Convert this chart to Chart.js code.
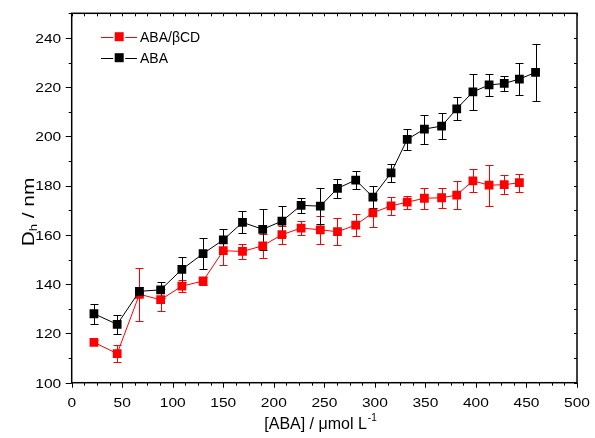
<!DOCTYPE html>
<html>
<head>
<meta charset="utf-8">
<script src="https://cdn.jsdelivr.net/npm/chart.js@4.4.1/dist/chart.umd.min.js"></script>
<style>
  html, body { margin: 0; padding: 0; background: #fff; }
  #wrap { width: 595px; height: 438px; position: relative; }
</style>
</head>
<body>
<div id="wrap"><canvas id="c"></canvas></div>
<script>
// ABA concentration (µmol/L)
const concentration = [22, 45, 67, 88, 109, 130, 150, 169, 189, 208, 227, 246, 263,
  281, 298, 316, 332, 349, 366, 381, 397, 413, 428, 443, 459];

// Hydrodynamic diameter (nm) and standard deviation, ABA/βCD complex
const sizeComplex = [116.4, 111.8, 135.9, 133.7, 139.2, 141.3, 153.6, 153.3, 155.6, 160.1,
  162.8, 162.1, 161.3, 164.0, 169.0, 171.8, 173.3, 174.9, 175.1, 176.2, 182.0, 180.2, 180.4, 181.2];
const errComplex = [0.8, 3.4, 10.8, 4.5, 2.5, 1.7, 6.0, 3.2, 4.9, 3.6,
  3.0, 5.7, 5.4, 4.6, 5.6, 3.8, 2.6, 4.3, 4.0, 5.7, 4.7, 8.3, 3.9, 3.7];

// Hydrodynamic diameter (nm) and standard deviation, free ABA
const sizeFree = [128.0, 123.7, 137.1, 137.7, 146.0, 152.4, 158.0, 165.1, 162.3, 165.6,
  172.0, 171.7, 178.9, 182.3, 175.4, 185.2, 198.8, 203.0, 204.2, 211.2, 218.1, 220.9, 221.5, 223.3, 226.0];
const errFree = [4.0, 3.8, 1.7, 3.2, 5.1, 6.2, 4.5, 4.5, 8.3, 6.0,
  3.0, 7.2, 4.0, 3.7, 4.6, 3.6, 4.3, 5.9, 5.4, 4.7, 7.4, 4.5, 3.1, 6.5, 11.5];

const seriesNames = ['ABA/βCD', 'ABA'];
const xTickLabels = [0, 50, 100, 150, 200, 250, 300, 350, 400, 450, 500];
const yTickLabels = [100, 120, 140, 160, 180, 200, 220, 240];

const FONT = "'Liberation Sans', Arial, Helvetica, sans-serif";

function pts(xs, ys) { return ys.map((v, i) => ({ x: xs[i], y: v })); }

function text(ctx, str, x, y, align, size, sx) {
  ctx.save();
  ctx.font = size + 'px ' + FONT;
  ctx.textBaseline = 'alphabetic';
  const w = ctx.measureText(str).width * sx;
  let x0 = x;
  if (align === 'center') x0 = x - w / 2;
  else if (align === 'right') x0 = x - w;
  ctx.translate(x0, y);
  ctx.scale(sx, 1);
  ctx.textAlign = 'left';
  ctx.fillText(str, 0, 0);
  ctx.restore();
}

// Draws error bars with caps under the markers
const errorBars = {
  id: 'errorBars',
  beforeDatasetsDraw(chart) {
    const { ctx, scales: { x, y } } = chart;
    chart.data.datasets.forEach((ds) => {
      ctx.save();
      ctx.strokeStyle = ds.borderColor;
      ctx.lineWidth = 1;
      ds.data.forEach((p, j) => {
        const e = ds.errors[j];
        const px = Math.round(x.getPixelForValue(p.x)) + 0.5;
        const top = Math.round(y.getPixelForValue(p.y + e)) + 0.5;
        const bot = Math.round(y.getPixelForValue(p.y - e)) + 0.5;
        ctx.beginPath();
        ctx.moveTo(px, top); ctx.lineTo(px, bot);
        ctx.moveTo(px - 4, top); ctx.lineTo(px + 4, top);
        ctx.moveTo(px - 4, bot); ctx.lineTo(px + 4, bot);
        ctx.stroke();
      });
      ctx.restore();
    });
  }
};

// Box frame, ticks, tick labels, axis titles and the inset legend
const frame = {
  id: 'frame',
  afterDraw(chart) {
    const { ctx, chartArea: a, scales: { x, y } } = chart;
    ctx.save();
    ctx.strokeStyle = '#000';
    ctx.fillStyle = '#000';

    // ticks
    ctx.lineWidth = 1;
    ctx.beginPath();
    for (let v = 0; v <= 500; v += 12.5) {
      const px = Math.round(x.getPixelForValue(v)) + 0.5;
      const major = v % 50 === 0;
      ctx.moveTo(px, a.bottom); ctx.lineTo(px, a.bottom + (major ? 5 : 3));
      ctx.moveTo(px, a.top); ctx.lineTo(px, a.top + 3);
    }
    for (let v = 100; v <= 250; v += 10) {
      const py = Math.round(y.getPixelForValue(v)) + 0.5;
      const major = (v - 100) % 20 === 0 && v <= 240;
      ctx.moveTo(a.left, py); ctx.lineTo(a.left - (major ? 6 : 3), py);
      ctx.moveTo(a.right, py); ctx.lineTo(a.right - 3, py);
    }
    ctx.stroke();

    // box
    ctx.lineWidth = 1.5;
    ctx.strokeRect(a.left, a.top, a.right - a.left, a.bottom - a.top);

    // tick labels
    xTickLabels.forEach(v => text(ctx, String(v), x.getPixelForValue(v), a.bottom + 24.5, 'center', 13.5, 1.15));
    yTickLabels.forEach(v => text(ctx, String(v), a.left - 10.5, y.getPixelForValue(v) + 4.8, 'right', 13.5, 1.15));

    // x title with superscript
    ctx.font = '16px ' + FONT;
    const main = '[ABA] / μmol L';
    const w1 = ctx.measureText(main).width;
    ctx.font = '10px ' + FONT;
    const w2 = ctx.measureText('-1').width;
    const sx0 = 320 - (w1 + w2) / 2;
    ctx.font = '16px ' + FONT;
    ctx.textAlign = 'left';
    ctx.textBaseline = 'alphabetic';
    ctx.fillText(main, sx0, 429);
    ctx.font = '10px ' + FONT;
    ctx.fillText('-1', sx0 + w1 + 1, 421);

    // y title with subscript, rotated and slightly stretched along its length
    ctx.save();
    ctx.translate(33.5, 212);
    ctx.rotate(-Math.PI / 2);
    ctx.scale(1.3, 1);
    ctx.font = '16px ' + FONT;
    const dW = ctx.measureText('D').width;
    const rest = ' / nm';
    const rW = ctx.measureText(rest).width;
    ctx.font = '10px ' + FONT;
    const hW = ctx.measureText('h').width;
    const tot = dW + hW + rW;
    let cx = -tot / 2;
    ctx.font = '16px ' + FONT;
    ctx.fillText('D', cx, 0); cx += dW;
    ctx.font = '10px ' + FONT;
    ctx.fillText('h', cx, 3); cx += hW;
    ctx.font = '16px ' + FONT;
    ctx.fillText(rest, cx, 0);
    ctx.restore();

    // legend
    chart.data.datasets.slice().sort((p, q) => p.legendRank - q.legendRank).forEach((ds, i) => {
      const ly = 36.7 + i * 21;
      const cxm = 119.2;
      ctx.strokeStyle = ds.borderColor;
      ctx.lineWidth = 1;
      ctx.beginPath();
      ctx.moveTo(101, Math.round(ly) + 0.5); ctx.lineTo(cxm - 6, Math.round(ly) + 0.5);
      ctx.moveTo(cxm + 6, Math.round(ly) + 0.5); ctx.lineTo(137, Math.round(ly) + 0.5);
      ctx.stroke();
      ctx.fillStyle = ds.backgroundColor;
      ctx.fillRect(cxm - 4.5, ly - 4.5, 9, 9);
      ctx.fillStyle = '#000';
      ctx.font = '14px ' + FONT;
      ctx.textBaseline = 'middle';
      ctx.fillText(ds.label, 140, ly + 1);
    });
    ctx.restore();
  }
};

new Chart(document.getElementById('c'), {
  type: 'line',
  data: {
    datasets: [
      {
        label: seriesNames[0],
        data: pts(concentration, sizeComplex),
        errors: errComplex,
        legendRank: 0,
        order: 1,
        borderColor: '#ff0000',
        backgroundColor: '#ff0000',
        borderWidth: 1,
        pointStyle: 'rect',
        pointRadius: 6.2,
        pointBorderWidth: 0,
        pointHoverRadius: 6.2,
        tension: 0
      },
      {
        label: seriesNames[1],
        data: pts(concentration, sizeFree),
        errors: errFree,
        legendRank: 1,
        order: 0,
        borderColor: '#000000',
        backgroundColor: '#000000',
        borderWidth: 1,
        pointStyle: 'rect',
        pointRadius: 6.2,
        pointBorderWidth: 0,
        pointHoverRadius: 6.2,
        tension: 0
      }
    ]
  },
  options: {
    responsive: true,
    maintainAspectRatio: false,
    devicePixelRatio: 1,
    animation: false,
    events: [],
    layout: { padding: { left: 71.7, right: 18, top: 13.3, bottom: 55.3 } },
    plugins: { legend: { display: false }, tooltip: { enabled: false } },
    scales: {
      x: { type: 'linear', min: 0, max: 500, display: false },
      y: { type: 'linear', min: 100, max: 250, display: false }
    }
  },
  plugins: [errorBars, frame]
});
</script>
</body>
</html>
